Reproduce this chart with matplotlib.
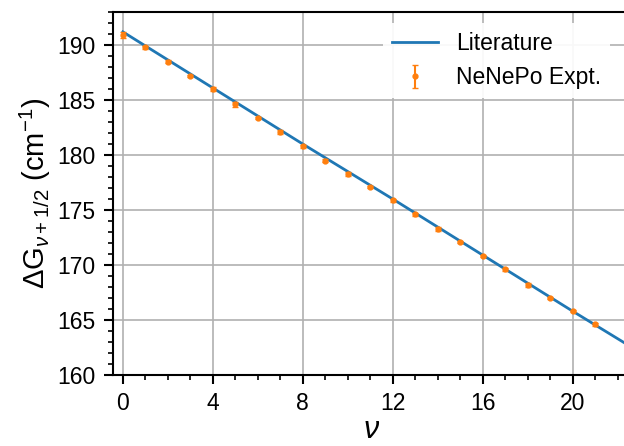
import matplotlib
matplotlib.use("Agg")
import matplotlib.pyplot as plt
from matplotlib.ticker import MultipleLocator

plt.rcParams["font.family"] = ["Liberation Sans", "DejaVu Sans"]
plt.rcParams["mathtext.fontset"] = "custom"
plt.rcParams["mathtext.rm"] = "Liberation Sans"
plt.rcParams["mathtext.it"] = "Liberation Sans:italic"

# literature line
lit_v = [0, 4, 8, 12, 16, 20, 24]
lit_dg = [191.2, 186.1, 181.0, 176.0, 170.9, 165.8, 160.8]

# experimental points
exp_v = list(range(22))
exp_dg = [190.9, 189.8, 188.5, 187.2, 186.0, 184.6, 183.4, 182.1, 180.8, 179.5,
          178.3, 177.1, 175.9, 174.6, 173.3, 172.1, 170.8, 169.6, 168.2, 167.0,
          165.8, 164.6]
exp_err = [0.3, 0.15, 0.1, 0.1, 0.2, 0.25, 0.1, 0.2, 0.15, 0.1,
           0.2, 0.1, 0.15, 0.1, 0.2, 0.1, 0.1, 0.1, 0.15, 0.1,
           0.1, 0.1]

fig = plt.figure(figsize=(6.24, 4.46), dpi=100)
ax = fig.add_axes([0.181, 0.159, 0.83, 0.814])

ax.plot(lit_v, lit_dg, color="tab:blue", lw=2, label="Literature", zorder=2)
ax.errorbar(exp_v, exp_dg, yerr=exp_err, fmt="o", ms=3.5, color="tab:orange",
            capsize=2, elinewidth=1.5, label="NeNePo Expt.", zorder=3)

ax.set_xlim(-0.44, 22.58)
ax.set_ylim(160, 193)
ax.set_xticks([0, 4, 8, 12, 16, 20])
ax.xaxis.set_minor_locator(MultipleLocator(1))
ax.yaxis.set_minor_locator(MultipleLocator(1))
ax.tick_params(labelsize=16.5, width=1.5, length=6.5, pad=6)
ax.tick_params(which="minor", width=1.2, length=3.6)
for s in ax.spines.values():
    s.set_linewidth(1.5)
ax.spines["right"].set_visible(False)
ax.grid(True, color="#b0b0b0", lw=1.2)

ax.set_xlabel(r"$\nu$", fontsize=22, labelpad=0)
ax.set_ylabel(r"$\Delta$G$_{\nu+1/2}$ (cm$^{-1}$)", fontsize=21, labelpad=3)

fig.legend(loc="upper left", bbox_to_anchor=(0.595, 0.975), fontsize=16.5,
           frameon=True, edgecolor="none", framealpha=0.92)

fig.savefig("out.png", dpi=100)
